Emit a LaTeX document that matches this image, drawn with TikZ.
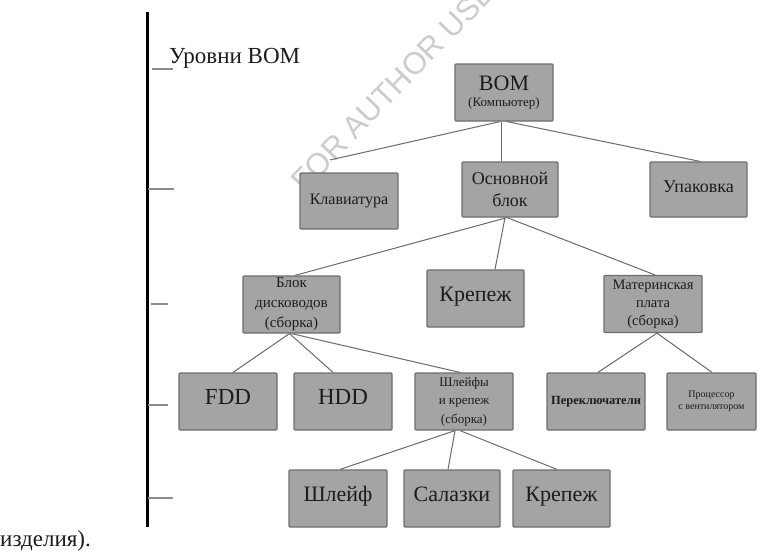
\documentclass[tikz,border=0pt]{standalone}
\usepackage{fontspec}
\setmainfont{Liberation Serif}
\newfontfamily\wmfont{Liberation Sans}
\definecolor{boxfill}{HTML}{A4A4A4}
\definecolor{boxdraw}{HTML}{6E6E6E}
\definecolor{linkgray}{HTML}{6A6A6A}
\definecolor{tickgray}{HTML}{8C8C8C}
\definecolor{txt}{HTML}{1C1C1C}
\newcommand{\fsz}[2]{\fontsize{#1}{#2}\selectfont}
\tikzset{
  bomnode/.style={draw=boxdraw, fill=boxfill, line width=1.2pt, rounded corners=1pt,
    minimum width=98pt, minimum height=57pt, inner sep=0pt, align=center, text=txt},
  oneline/.style={text height=0.68em, text depth=0.02em},
  link/.style={draw=linkgray, line width=1pt},
  tickline/.style={draw=tickgray, line width=1.5pt}
}
\begin{document}
\begin{tikzpicture}[x=1pt,y=-1pt]
\useasboundingbox (0,0) rectangle (758,552);
% watermark
\begin{scope}
\clip (0,0) rectangle (758,552);
\node[rotate=46, anchor=base west, text=black!20, inner sep=0pt, font=\wmfont\fsz{31}{31}] (wm) at (304,194) {FOR AUTHOR USE ONLY};
\end{scope}
% level scale
\coordinate (vtop) at (147.5,12);
\coordinate (vbot) at (147.5,527);
\draw[line width=3pt, black] (vtop) -- (vbot);
\coordinate (t1a) at (152,69); \coordinate (t1b) at (173,69);
\coordinate (t2a) at (148,189); \coordinate (t2b) at (174,189);
\coordinate (t3a) at (151,304); \coordinate (t3b) at (168,304);
\coordinate (t4a) at (148,405); \coordinate (t4b) at (168,405);
\coordinate (t5a) at (148,498); \coordinate (t5b) at (173,498);
\draw[tickline] (t1a) -- (t1b);
\draw[tickline] (t2a) -- (t2b);
\draw[tickline] (t3a) -- (t3b);
\draw[tickline] (t4a) -- (t4b);
\draw[tickline] (t5a) -- (t5b);
\node[anchor=base west, inner sep=0pt, text=txt, font=\fsz{23}{26}] (lev) at (169,63) {Уровни BOM};
\node[anchor=base west, inner sep=0pt, text=txt, font=\fsz{23}{26}] (izd) at (0,546) {изделия).};
% level 1
\node[bomnode] (bom) at (504,92.5) {{\fsz{22}{22}BOM}\\[4pt]{\fsz{13}{14}(Компьютер)}};
% level 2
\node[bomnode, oneline, minimum height=56pt, font=\fsz{16}{18}] (kbd) at (349,201) {Клавиатура};
\node[bomnode, minimum width=96pt, minimum height=55pt, font=\fsz{18}{22}] (main) at (510,189.5) {Основной\\блок};
\node[bomnode, oneline, minimum width=97pt, minimum height=55pt, font=\fsz{18}{20}] (pack) at (698.5,189.5) {Упаковка};
% level 3
\node[bomnode, minimum width=97pt, font=\fsz{15}{20}] (disk) at (291.5,304.5) {Блок\\дисководов\\(сборка)};
\node[bomnode, oneline, minimum width=97pt, font=\fsz{22}{24}] (fix1) at (475.5,298.5) {Крепеж};
\node[bomnode, font=\fsz{14.5}{18}] (mb) at (653,304) {Материнская\\плата\\(сборка)};
% level 4
\node[bomnode, oneline, font=\fsz{23}{24}] (fdd) at (228,401.5) {FDD};
\node[bomnode, oneline, font=\fsz{23}{24}] (hdd) at (343,401.5) {HDD};
\node[bomnode, font=\fsz{13}{18.5}] (cab) at (464,401.5) {Шлейфы\\и крепеж\\(сборка)};
\node[bomnode, oneline, font=\fsz{12.5}{14}\bfseries] (sw) at (596,401.5) {Переключатели};
\node[bomnode, minimum width=89pt, font=\fsz{10}{11.5}] (cpu) at (711.5,401.5) {Процессор\\с вентилятором};
% level 5
\node[bomnode, oneline, font=\fsz{22}{24}] (cable) at (338,498.5) {Шлейф};
\node[bomnode, oneline, minimum width=96pt, font=\fsz{22}{24}] (sled) at (452,498.5) {Салазки};
\node[bomnode, oneline, minimum width=97pt, font=\fsz{22}{24}] (fix2) at (561.5,498.5) {Крепеж};
% connectors
\coordinate (kbdend) at (330,160);
\draw[link] ([xshift=-4pt]bom.south) -- (kbdend);
\draw[link] ([xshift=-3pt]bom.south) -- ([xshift=-9pt]main.north);
\draw[link] ([xshift=3pt]bom.south) -- ([xshift=1.5pt]pack.north);
\draw[link] ([xshift=-3pt]main.south) -- ([xshift=3.5pt]disk.north);
\draw[link] ([xshift=-5pt]main.south) -- ([xshift=19.5pt]fix1.north);
\draw[link] ([xshift=-3pt]main.south) -- ([xshift=2pt]mb.north);
\draw[link] ([xshift=-2pt]disk.south) -- ([xshift=5pt]fdd.north);
\draw[link] ([xshift=-2pt]disk.south) -- ([xshift=-10pt]hdd.north);
\draw[link] ([xshift=0pt]disk.south) -- ([xshift=-4pt]cab.north);
\draw[link] ([xshift=4pt]mb.south) -- ([xshift=2pt]sw.north);
\draw[link] ([xshift=4pt]mb.south) -- ([xshift=0.5pt]cpu.north);
\draw[link] ([xshift=-9pt]cab.south) -- ([xshift=2pt]cable.north);
\draw[link] ([xshift=-9pt]cab.south) -- ([xshift=-4pt]sled.north);
\draw[link] ([xshift=-4pt]cab.south) -- ([xshift=-4.5pt]fix2.north);
\end{tikzpicture}
\end{document}
